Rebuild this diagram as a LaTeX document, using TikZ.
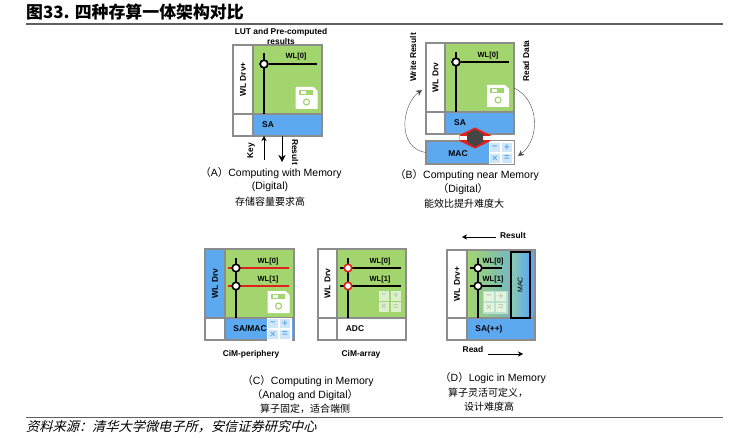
\documentclass[tikz,border=0pt]{standalone}
\usepackage{fontspec}
\setmainfont{Liberation Sans}
\newfontfamily\cjk{Noto Sans CJK SC}
\newfontfamily\cjkslant[FakeSlant=0.25]{Noto Sans CJK SC}
\usetikzlibrary{positioning, arrows.meta}

\definecolor{framegray}{HTML}{8C8C8C}
\definecolor{arraygreen}{HTML}{A3D56F}
\definecolor{cellblue}{HTML}{5CA9F0}
\definecolor{tileblue}{HTML}{CFE5F8}
\definecolor{symblue}{HTML}{5CA9F0}
\definecolor{tilegreen}{HTML}{DDF0CE}
\definecolor{symgreen}{HTML}{B8CDB0}
\definecolor{palegreen}{HTML}{E6F3DE}
\definecolor{tealmid}{HTML}{8CCBB0}
\definecolor{wirered}{HTML}{E0201C}
\definecolor{hexdark}{HTML}{454545}
\definecolor{rulegray}{HTML}{606060}

\begin{document}
\begin{tikzpicture}[
    x=1pt, y=-1pt,
    cell/.style={
        draw=framegray, line width=2pt,
        inner sep=0pt, outer sep=0pt
    },
    drvtext/.style={font=\bfseries\fontsize{8.4}{10}\selectfont},
    tag/.style={font=\bfseries\fontsize{8.4}{10}\selectfont, inner sep=0pt},
    wltag/.style={font=\bfseries\fontsize{7.5}{9}\selectfont, inner sep=0pt},
    caption/.style={font=\fontsize{10.5}{12}\selectfont, inner sep=0pt},
    cncaption/.style={font=\cjk\fontsize{10}{12}\selectfont, inner sep=0pt},
    wire/.style={line width=1.5pt},
    redwire/.style={line width=1.5pt, wirered},
    junction/.style={
        circle, draw=black, fill=white, line width=1.6pt,
        minimum size=7.5pt, inner sep=0pt
    },
    redjunction/.style={junction, draw=wirered},
    flow/.style={-{Stealth[length=5pt,width=5pt]}, line width=0.4pt},
    pics/floppy/.style={code={
        \fill[white, rounded corners=0.5pt] (-11,-11) -- (7,-11) -- (11,-7) -- (11,11) -- (-11,11) -- cycle;
        \fill[#1] (-8,-8) rectangle (6,-3);
        \fill[white] (-6,-7) rectangle (-1,-4);
        \draw[#1, line width=1.2pt] (0,4) circle (3pt);
    }},
    pics/calcpad/.style n args={3}{code={
        \fill[#1] (-12.5,-11.5) rectangle (12.5,11.5);
        \foreach \tsym/\tx/\ty in {−/-6/-5.5, +/6/-5.5, ×/-6/5.5, =/6/5.5} {
            \fill[#2] (\tx-5,\ty-4.8) rectangle (\tx+5,\ty+4.8);
            \node[#3, font=\bfseries\fontsize{9.5}{9.5}\selectfont, inner sep=0pt] at (\tx,\ty) {\tsym};
        }
    }}
]
\useasboundingbox (0,0) rectangle (741,438);

% ===== TITLE AND RULES =====
\node[anchor=west, inner sep=0pt, font=\cjk\bfseries\fontsize{16.9}{19}\selectfont] (title) at (26,12) {图33. 四种存算一体架构对比};
\node[anchor=west, inner sep=0pt, font=\cjkslant\fontsize{13.2}{15}\selectfont] (source) at (26,427) {资料来源：清华大学微电子所，安信证券研究中心};
\coordinate (topL) at (26,24);
\coordinate (topR) at (723,24);
\coordinate (botL) at (26,417.5);
\coordinate (botR) at (723,417.5);
\draw[rulegray, line width=1.6pt] (topL) -- (topR);
\draw[rulegray, line width=1.6pt] (botL) -- (botR);

% ===== PANEL A =====
\node[cell, drvtext, minimum width=20pt, minimum height=69pt, anchor=north west] (drvA) at (233,45)
{\rotatebox{90}{WL Drv+}};
\node[cell, fill=arraygreen, minimum width=69pt, minimum height=69pt, right=0pt of drvA] (arrayA) {};
\node[cell, minimum width=20pt, minimum height=22pt, below=0pt of drvA] (cornerA) {};
\node[cell, fill=cellblue, minimum width=69pt, minimum height=22pt, right=0pt of cornerA] (saA) {};
\node[tag] (saTextA) at (268,125) {SA};
\node[junction] (jA) at (264,64) {};
\coordinate (blTopA) at (264,53);
\coordinate (wlEndA) at (317,64);
\draw[wire] (blTopA) -- (blTopA |- saA.north);
\draw[wire] (jA) -- (wlEndA);
\node[junction] at (jA) {};
\node[wltag] (wlA) at (296,57) {WL[0]};
\pic at (306.5,98) {floppy=arraygreen};
\node[tag, align=center, font=\bfseries\fontsize{8.4}{9.4}\selectfont] (lutA) at (281,36.5) {LUT and Pre-computed\\results};
\coordinate (keyEnd) at (264,160);
\coordinate (resEnd) at (282,162);
\draw[flow] (keyEnd) -- (keyEnd |- saA.south);
\draw[flow, -{Stealth[length=7pt,width=7pt]}] (resEnd |- saA.south) -- (resEnd);
\node[tag, rotate=90] (keyA) at (251,151) {Key};
\node[tag, rotate=-90] (resA) at (295,152) {Result};
\node[caption] (capA) at (271,173) {{\cjk（}A{\cjk）}Computing with Memory};
\node[caption] (capA2) at (270,187) {(Digital)};
\node[cncaption] (cnA) at (270,202) {存储容量要求高};

% ===== PANEL B =====
\node[cell, drvtext, minimum width=19pt, minimum height=69pt, anchor=north west] (drvB) at (426,43)
{\rotatebox{90}{WL Drv}};
\node[cell, fill=arraygreen, minimum width=69pt, minimum height=69pt, right=0pt of drvB] (arrayB) {};
\node[cell, minimum width=19pt, minimum height=22pt, below=0pt of drvB] (cornerB) {};
\node[cell, fill=cellblue, minimum width=69pt, minimum height=22pt, right=0pt of cornerB] (saB) {};
\node[cell, fill=cellblue, minimum width=88pt, minimum height=23pt, anchor=north west] (macB) at (426,141) {};
\node[tag] (saTextB) at (460,123) {SA};
\node[tag] (macTextB) at (458,154) {MAC};
\pic at (501,153) {calcpad={white}{tileblue}{symblue}};
\node[junction] (jB) at (456,62) {};
\coordinate (blTopB) at (456,52);
\coordinate (wlEndB) at (509,62);
\draw[wire] (blTopB) -- (blTopB |- saB.north);
\draw[wire] (jB) -- (wlEndB);
\node[junction] at (jB) {};
\node[wltag] (wlB) at (488,56) {WL[0]};
\pic at (498,96) {floppy=arraygreen};
% link between SA and MAC
\coordinate (busB) at (475,138);
\fill[wirered] ([yshift=-10.5pt]busB) -- ([xshift=-15.5pt,yshift=-3pt]busB) -- ([xshift=-15.5pt,yshift=3pt]busB)
    -- ([yshift=10.5pt]busB) -- ([xshift=15.5pt,yshift=3pt]busB) -- ([xshift=15.5pt,yshift=-3pt]busB) -- cycle;
\fill[white] ([xshift=-15.5pt,yshift=-1.6pt]busB) rectangle ([xshift=15.5pt,yshift=1.6pt]busB);
\fill[hexdark] ([yshift=-8.6pt]busB) -- ([xshift=-8pt,yshift=-4pt]busB) -- ([xshift=-8pt,yshift=4pt]busB)
    -- ([yshift=8.6pt]busB) -- ([xshift=8pt,yshift=4pt]busB) -- ([xshift=8pt,yshift=-4pt]busB) -- cycle;
\coordinate (writeEnd) at (422,90);
\coordinate (readStart) at (514,88);
\coordinate (readEnd) at (518,156);
\draw[flow, -{Stealth[length=6pt,width=6pt]}, black!70] (macB.west) .. controls (396,148) and (402,104) .. (writeEnd);
\draw[flow, -{Stealth[length=6pt,width=6pt]}, black!70] (readStart) .. controls (540,100) and (540,140) .. (readEnd);
\node[tag, rotate=90] (writeB) at (413,57.5) {Write Result};
\node[tag, rotate=90] (readB) at (526,61) {Read Data};
\node[caption] (capB) at (467,175) {{\cjk（}B{\cjk）}Computing near Memory};
\node[caption] (capB2) at (463,189) {{\cjk（}Digital{\cjk）}};
\node[cncaption] (cnB) at (464,204) {能效比提升难度大};

% ===== PANEL C, PERIPHERY =====
\node[cell, drvtext, fill=cellblue, minimum width=20pt, minimum height=69pt, anchor=north west] (drvC) at (205,249)
{\rotatebox{90}{WL Drv}};
\node[cell, fill=arraygreen, minimum width=69pt, minimum height=69pt, right=0pt of drvC] (arrayC) {};
\node[cell, minimum width=20pt, minimum height=22pt, below=0pt of drvC] (cornerC) {};
\node[cell, fill=cellblue, minimum width=69pt, minimum height=22pt, right=0pt of cornerC] (saC) {};
\node[tag] (saTextC) at (250,329) {SA/MAC};
\pic at (279,329) {calcpad={white}{tileblue}{symblue}};
\coordinate (blTopC) at (236,258);
\draw[wire] (blTopC) -- (blTopC |- saC.north);
\foreach \wlname/\wly in {WL[0]/268, WL[1]/286} {
    \draw[redwire] (228,\wly) -- (289,\wly);
    \node[junction] at (236,\wly) {};
    \node[wltag] at (268,\wly-6.5) {\wlname};
}
\pic at (278.5,302) {floppy=arraygreen};
\node[tag] (labelC) at (251,354) {CiM-periphery};

% ===== PANEL C, ARRAY =====
\node[cell, drvtext, minimum width=19pt, minimum height=69pt, anchor=north west] (drvC2) at (318,249)
{\rotatebox{90}{WL Drv}};
\node[cell, fill=arraygreen, minimum width=69pt, minimum height=69pt, right=0pt of drvC2] (arrayC2) {};
\node[cell, minimum width=19pt, minimum height=22pt, below=0pt of drvC2] (cornerC2) {};
\node[cell, minimum width=69pt, minimum height=22pt, right=0pt of cornerC2] (adcC2) {};
\node[tag] (adcText) at (355,329) {ADC};
\coordinate (blTopC2) at (348,258);
\draw[wire] (blTopC2) -- (blTopC2 |- adcC2.north);
\foreach \wlname/\wly in {WL[0]/268, WL[1]/286} {
    \draw[wire] (340,\wly) -- (401,\wly);
    \node[redjunction] at (348,\wly) {};
    \node[wltag] at (380,\wly-6.5) {\wlname};
}
\pic at (390,301.5) {calcpad={arraygreen}{tilegreen}{symgreen}};
\node[tag] (labelC2) at (361,354) {CiM-array};
\node[caption] (capC) at (308,381) {{\cjk（}C{\cjk）}Computing in Memory};
\node[caption] (capC2) at (305,395) {{\cjk（}Analog and Digital{\cjk）}};
\node[cncaption] (cnC) at (305,409) {算子固定，适合端侧};

% ===== PANEL D =====
\node[cell, drvtext, minimum width=20pt, minimum height=68pt, anchor=north west] (drvD) at (447,250)
{\rotatebox{90}{WL Drv+}};
\node[cell, left color=arraygreen, middle color=tealmid, right color=cellblue, minimum width=68pt, minimum height=68pt, right=0pt of drvD] (arrayD) {};
\node[cell, minimum width=20pt, minimum height=22pt, below=0pt of drvD] (cornerD) {};
\node[cell, fill=cellblue, minimum width=68pt, minimum height=22pt, right=0pt of cornerD] (saD) {};
\node[tag] (saTextD) at (489,329) {SA(++)};
\coordinate (blTopD) at (478,258);
\draw[wire] (blTopD) -- (blTopD |- saD.north);
\foreach \wlname/\wly in {WL[0]/268, WL[1]/286} {
    \draw[wire] (470,\wly) -- (502,\wly);
    \node[junction] at (478,\wly) {};
    \node[wltag] at (493,\wly-6.5) {\wlname};
}
\pic at (495,302) {calcpad={tealmid!60!white}{palegreen}{symgreen}};
\node[draw=black, line width=1.6pt, left color=tealmid, right color=cellblue, minimum width=19pt, minimum height=66pt, inner sep=0pt, anchor=north west, font=\fontsize{7}{8}\selectfont] (macD) at (510,251) {\rotatebox{90}{MAC}};
\coordinate (resStart) at (496,237);
\coordinate (resEndD) at (462,237);
\coordinate (readStartD) at (488,354);
\coordinate (readEndD) at (523,354);
\draw[flow] (resStart) -- (resEndD);
\draw[flow] (readStartD) -- (readEndD);
\node[tag] (resD) at (513,235) {Result};
\node[tag] (readD) at (473,349) {Read};
\node[caption] (capD) at (493,378) {{\cjk（}D{\cjk）}Logic in Memory};
\node[cncaption] (cnD) at (488,393) {算子灵活可定义，};
\node[cncaption] (cnD2) at (489,407) {设计难度高};

\end{tikzpicture}
\end{document}
